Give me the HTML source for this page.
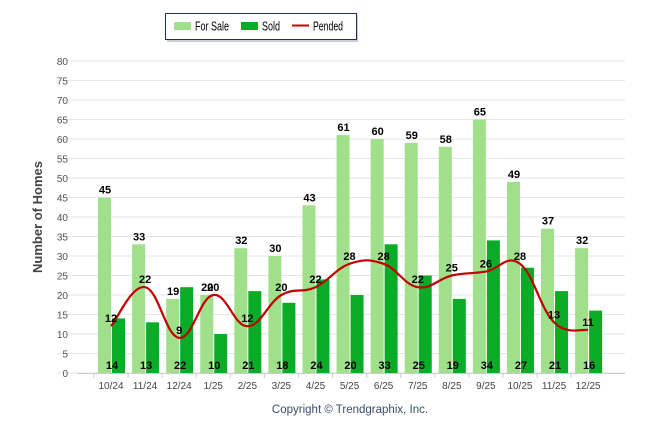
<!DOCTYPE html>
<html><head><meta charset="utf-8"><style>
body{margin:0;background:#fff;font-family:"Liberation Sans",sans-serif}
svg text{font-family:"Liberation Sans",sans-serif}
</style></head><body>
<svg width="646" height="434">
<g>
<rect x="167" y="15" width="191" height="27" fill="#aab" opacity="0.6"/>
<rect x="165.5" y="13.5" width="191" height="26" fill="#fff" stroke="#1f2f55" stroke-width="1"/>
<rect x="174" y="22" width="17" height="8" fill="#a1e08a"/>
<text x="195" y="30.5" font-size="12.5" textLength="34" lengthAdjust="spacingAndGlyphs">For Sale</text>
<rect x="241" y="22" width="17" height="8" fill="#0aab27"/>
<text x="262" y="30.5" font-size="12.5" textLength="18" lengthAdjust="spacingAndGlyphs">Sold</text>
<line x1="292" y1="25.5" x2="309" y2="25.5" stroke="#cc0000" stroke-width="2"/>
<text x="313" y="30.5" font-size="12.5" textLength="30" lengthAdjust="spacingAndGlyphs">Pended</text>
</g>
<g id="grid"></g><g id="bars"></g><g id="line"></g><g id="labels"></g>
<text transform="translate(42,217) rotate(-90)" text-anchor="middle" font-size="13" font-weight="bold" fill="#444">Number of Homes</text>
<text x="350" y="413" text-anchor="middle" font-size="11.5" fill="#3a4a6a">Copyright © Trendgraphix, Inc.</text>
</svg>
<script>
const categories=["10/24","11/24","12/24","1/25","2/25","3/25","4/25","5/25","6/25","7/25","8/25","9/25","10/25","11/25","12/25"];
const forSale=[45,33,19,20,32,30,43,61,60,59,58,65,49,37,32];
const sold=[14,13,22,10,21,18,24,20,33,25,19,34,27,21,16];
const pended=[12,22,9,20,12,20,22,28,28,22,25,26,28,13,11];
const yTicks=[0,5,10,15,20,25,30,35,40,45,50,55,60,65,70,75,80];
const NS="http://www.w3.org/2000/svg";
const y=v=>373-v*3.9;
const x=i=>111+i*34.08;
function mk(tag,at,parent){const e=document.createElementNS(NS,tag);for(const k in at)e.setAttribute(k,at[k]);document.getElementById(parent).appendChild(e);return e;}
yTicks.forEach(t=>{
 const l=mk("line",{x1:57,x2:625,y1:y(t),y2:y(t),stroke:"#e6e6e6"},"grid");
 
 
 const tx=mk("text",{x:68,y:y(t)+4,"text-anchor":"end","font-size":10,fill:"#555"},"grid");tx.textContent=t;
 
 
});
mk("line",{x1:77,x2:625,y1:373.5,y2:373.5,stroke:"#ccc"},"grid");
categories.forEach((c,i)=>{
 const tk=mk("line",{x1:x(i)-17,x2:x(i)-17,y1:373,y2:378,stroke:"#ccc"},"grid");
 const tx=mk("text",{x:x(i),y:389,"text-anchor":"middle","font-size":10,fill:"#444"},"grid");tx.textContent=c;
 
 
 const b1=mk("rect",{x:x(i)-13,y:y(forSale[i]),width:13,height:373-y(forSale[i]),fill:"#a1e08a"},"bars");
 
 
 const b2=mk("rect",{x:x(i)+1,y:y(sold[i]),width:13,height:373-y(sold[i]),fill:"#0aab27"},"bars");
 
 
 const l1=mk("text",{x:x(i)-6,y:y(forSale[i])-4,"text-anchor":"middle","font-size":11,"font-weight":"bold"},"labels");l1.textContent=forSale[i];
 
 
 const l2=mk("text",{x:x(i)+1,y:369,"text-anchor":"middle","font-size":11,"font-weight":"bold"},"labels");l2.textContent=sold[i];
 
 
 const l3=mk("text",{x:x(i),y:y(pended[i])-4,"text-anchor":"middle","font-size":11,"font-weight":"bold"},"labels");l3.textContent=pended[i];
 
 
});
const P=pended.map((v,i)=>[x(i),y(v)]);
let d="M"+P[0][0]+","+P[0][1];
for(let i=0;i<P.length-1;i++){
 const p0=P[Math.max(i-1,0)],p1=P[i],p2=P[i+1],p3=P[Math.min(i+2,P.length-1)];
 const t=0.2;
 d+=` C${p1[0]+(p2[0]-p0[0])*t},${p1[1]+(p2[1]-p0[1])*t} ${p2[0]-(p3[0]-p1[0])*t},${p2[1]-(p3[1]-p1[1])*t} ${p2[0]},${p2[1]}`;
}
const pl=mk("path",{d:d,fill:"none",stroke:"#c00000","stroke-width":2.2},"line");


</script>
</body></html>
